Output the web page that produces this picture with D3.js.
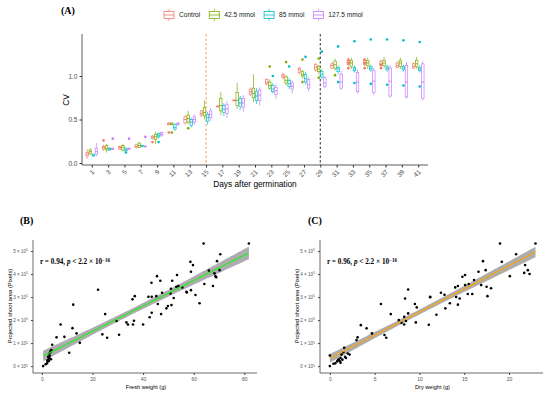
<html>
<head>
<script src="https://d3js.org/d3.v7.min.js"></script>
<style>
  body { margin: 0; background: #fff; }
  text { font-family: "Liberation Sans", Arial, sans-serif; }
  .serif { font-family: "Liberation Serif", "Times New Roman", serif; font-weight: bold; }
</style>
</head>
<body>
<svg id="fig" width="550" height="394"></svg>
<script>
// ---- panel A data: CV per day, [lower whisker, q1, median, q3, upper whisker] ----
const days = [1,3,5,7,9,11,13,15,17,19,21,23,25,27,29,31,33,35,37,39,41];
const groups = ["Control", "42.5 mmol", "85 mmol", "127.5 mmol"];
const groupColors = ["#F8766D", "#7CAE00", "#00BFC4", "#C77CFF"];

const statsControl = [
  [0.05,0.08,0.10,0.12,0.16],[0.14,0.16,0.18,0.19,0.21],[0.15,0.16,0.18,0.19,0.20],[0.17,0.18,0.19,0.21,0.22],
  [0.27,0.28,0.30,0.31,0.32],[0.43,0.44,0.45,0.46,0.47],[0.44,0.46,0.50,0.53,0.55],[0.53,0.55,0.57,0.60,0.61],
  [0.64,0.645,0.65,0.655,0.66],[0.71,0.715,0.72,0.725,0.73],[0.77,0.79,0.82,0.85,0.87],[0.89,0.91,0.93,0.96,0.97],
  [0.96,0.98,1.00,1.02,1.04],[1.02,1.04,1.07,1.09,1.11],[1.05,1.07,1.10,1.13,1.15],[1.08,1.09,1.12,1.14,1.16],
  [1.11,1.13,1.16,1.18,1.20],[1.11,1.13,1.15,1.18,1.20],[1.10,1.12,1.14,1.17,1.19],[1.09,1.10,1.12,1.15,1.17],
  [1.08,1.09,1.11,1.14,1.16]
];
const outControl = [[3,0.26],[9,0.24],[11,0.35],[33,1.19],[33,1.15],[33,1.09],[35,1.19],[35,1.15],[35,1.09],[37,1.13],[37,1.09]];

const stats425 = [
  [0.09,0.11,0.13,0.15,0.17],[0.12,0.15,0.17,0.20,0.22],[0.13,0.15,0.18,0.20,0.22],[0.17,0.18,0.20,0.23,0.24],
  [0.22,0.27,0.30,0.33,0.36],[0.43,0.44,0.45,0.46,0.47],[0.45,0.47,0.51,0.55,0.60],[0.50,0.54,0.58,0.64,0.72],
  [0.55,0.60,0.66,0.74,0.82],[0.62,0.66,0.72,0.81,0.92],[0.70,0.75,0.80,0.86,1.02],[0.84,0.86,0.89,0.93,0.96],
  [0.89,0.92,0.95,0.99,1.01],[0.97,1.00,1.02,1.05,1.07],[1.02,1.05,1.08,1.11,1.13],[1.06,1.09,1.13,1.17,1.20],
  [1.08,1.11,1.15,1.18,1.21],[1.08,1.12,1.15,1.18,1.21],[1.09,1.12,1.15,1.18,1.22],[1.08,1.11,1.15,1.18,1.21],
  [1.08,1.11,1.14,1.18,1.22]
];
const out425 = [[11,0.35],[13,0.40],[23,1.11],[25,1.16],[27,1.19],[27,0.93],[29,1.20],[29,0.98],[31,1.01]];

const stats85 = [
  [0.07,0.08,0.09,0.10,0.11],[0.14,0.15,0.16,0.17,0.18],[0.13,0.14,0.15,0.17,0.18],[0.18,0.19,0.195,0.20,0.21],
  [0.28,0.30,0.32,0.34,0.35],[0.37,0.39,0.41,0.44,0.46],[0.41,0.43,0.47,0.50,0.52],[0.44,0.48,0.52,0.56,0.59],
  [0.54,0.58,0.62,0.66,0.69],[0.61,0.65,0.69,0.74,0.77],[0.68,0.72,0.77,0.82,0.86],[0.80,0.82,0.85,0.89,0.92],
  [0.85,0.88,0.91,0.95,0.98],[0.90,0.93,0.97,1.02,1.05],[0.96,0.99,1.02,1.05,1.08],[1.02,1.05,1.08,1.10,1.12],
  [1.04,1.06,1.08,1.10,1.12],[1.05,1.07,1.09,1.11,1.13],[1.05,1.07,1.09,1.11,1.13],[1.05,1.07,1.09,1.11,1.13],
  [1.04,1.06,1.08,1.10,1.12]
];
const out85 = [[5,0.12],[9,0.24],[23,1.00],[25,1.11],[27,1.22],[29,1.28],[31,1.34],[31,0.93],[33,1.40],[33,0.92],
  [35,1.42],[35,0.91],[37,1.42],[37,0.90],[39,1.41],[39,0.89],[41,1.39],[41,0.88]];

const stats1275 = [
  [0.08,0.10,0.13,0.17,0.23],[0.15,0.155,0.16,0.17,0.18],[0.15,0.16,0.165,0.17,0.18],[0.18,0.185,0.19,0.195,0.20],
  [0.30,0.32,0.33,0.35,0.36],[0.43,0.44,0.45,0.46,0.47],[0.44,0.47,0.50,0.53,0.56],[0.48,0.52,0.56,0.60,0.63],
  [0.52,0.57,0.62,0.67,0.71],[0.59,0.64,0.69,0.74,0.78],[0.66,0.72,0.78,0.84,0.87],[0.74,0.79,0.83,0.87,0.91],
  [0.80,0.85,0.88,0.92,0.95],[0.82,0.86,0.90,0.96,0.99],[0.86,0.88,0.92,0.98,1.00],[0.84,0.86,0.93,1.02,1.06],
  [0.80,0.82,0.93,1.04,1.08],[0.78,0.81,0.94,1.06,1.10],[0.75,0.77,0.94,1.09,1.13],[0.74,0.76,0.93,1.12,1.16],
  [0.72,0.74,0.93,1.14,1.17]
];
const out1275 = [[3,0.28],[5,0.28],[7,0.30]];

const allStats = [statsControl, stats425, stats85, stats1275];
const allOut = [outControl, out425, out85, out1275];
const cvTicks = [0, 0.5, 1.0];
const markDays = [15, 29];

// ---- panels B and C: shoot area (x 10^5 pixels) against fresh / dry weight ----
const freshB = [0.5,1.5,2.0,2.3,2.6,2.8,3.0,3.1,2.9,3.3,3.5,3.8,4.1,2.5,3.6,2.2,
  12.4,25.0,7.4,12.1,5.8,8.9,13.7,10.8,15.0,22.2,36.7,35.8,42.1,43.4,45.2,45.8,50.8,57.3,58.9,60.7,52.1,49.8,49.2,51.2,
  47.1,43.4,42.6,40.0,36.4,36.0,34.0,33.4,29.5,30.5,23.9,25.8,62.3,
  63.9,81.8,70.5,58.7,59.7,58.9,69.2,66.0,68.2,68.6,68.9,70.2,45.5,53.4,43.3,46.8,51.5,64.2,67.6,47.5,51.0,53.1,53.9,55.5,57.1];
const areaB = [0.0,0.08,0.12,0.2,0.28,0.22,0.35,0.45,0.55,0.6,0.66,0.7,0.93,0.4,0.3,0.25,
  2.67,2.26,1.81,1.65,1.25,1.27,1.42,0.58,1.01,3.32,3.04,2.9,3.01,3.01,3.04,2.7,3.16,3.2,3.3,3.09,2.96,2.61,2.51,2.65,
  2.26,2.32,2.12,1.81,1.97,1.81,1.81,1.9,1.96,1.36,1.38,1.23,2.73,
  5.33,5.33,4.86,4.53,4.39,4.1,4.56,4.15,4.03,3.91,3.86,4.17,3.91,3.96,3.62,3.71,3.71,3.57,3.48,3.19,3.36,3.45,3.48,3.42,3.23];

const dryC = [0,0,0.4,0.6,0.8,0.9,1.0,1.1,1.2,1.3,1.4,1.5,1.6,1.7,1.8,2.0,2.2,1.2,
  2.98,3.1,3.46,4.1,4.7,5.7,6.8,6.1,6.3,7.7,8.0,8.3,8.3,8.5,9.5,9.7,9.6,8.74,11.05,11.9,11.2,12.4,13.4,12.9,14.3,14.5,14.1,
  15.4,15.9,17.6,8.74,8.4,11.2,12.8,
  19.0,22.96,17.1,20.8,19.2,17.4,16.6,15.1,14.8,21.8,22.1,22.3,21.7,20.1,16.1,16.9,17.5,18.0,15.5,15.1,14.3,14.0];
const areaC = [0,0.46,0.1,0.12,0.2,0.25,0.3,0.22,0.35,0.5,0.28,0.6,0.8,0.4,0.35,0.55,0.5,0.15,
  1.13,1.25,1.78,1.64,1.42,2.7,2.26,1.35,1.23,2.0,1.88,2.14,1.81,1.96,2.7,2.55,1.9,2.29,1.8,2.23,3.01,3.19,2.73,2.51,2.67,2.94,3.0,
  3.13,3.13,3.04,3.33,2.94,2.99,3.1,
  5.33,5.33,4.56,4.86,4.53,4.17,4.1,3.96,3.88,4.39,4.17,4.0,4.05,3.91,3.74,3.52,3.45,3.38,3.57,3.52,3.48,3.42];

const areaTicks = [0,1,2,3,4,5];
const freshTicks = [0,20,40,60,80];
const dryTicks = [0,5,10,15,20];

const svg = d3.select("#fig");
svg.append("rect").attr("width", 550).attr("height", 394).attr("fill", "#fff");

// ================= Panel A =================
const xA = d3.scalePoint().domain(days).range([82, 428]).padding(0.6);
const yA = d3.scaleLinear().domain([0, 1]).range([163, 76]);
const step = xA.step();
const boxW = step * 0.75 / 4;

svg.append("text").attr("class", "serif").attr("x", 61).attr("y", 14).attr("font-size", 10).text("(A)");

// dashed reference lines
svg.selectAll("line.mark").data(markDays).join("line")
  .attr("x1", d => xA(d)).attr("x2", d => xA(d))
  .attr("y1", 34).attr("y2", 165)
  .attr("stroke", (d, i) => i === 0 ? "#F6A56E" : "#444")
  .attr("stroke-width", 1.1)
  .attr("stroke-dasharray", "2.5,2");

const gA = svg.append("g");
groups.forEach((grp, gi) => {
  const off = (gi - 1.5) * boxW;
  const col = groupColors[gi];
  const g = gA.append("g");
  allStats[gi].forEach((s, di) => {
    const cx = xA(days[di]) + off;
    g.append("line").attr("x1", cx).attr("x2", cx).attr("y1", yA(s[0])).attr("y2", yA(s[1]))
      .attr("stroke", col).attr("stroke-width", 0.7);
    g.append("line").attr("x1", cx).attr("x2", cx).attr("y1", yA(s[3])).attr("y2", yA(s[4]))
      .attr("stroke", col).attr("stroke-width", 0.7);
    g.append("rect").attr("x", cx - boxW / 2 + 0.3).attr("width", boxW - 0.6)
      .attr("y", yA(s[3])).attr("height", Math.max(0.8, yA(s[1]) - yA(s[3])))
      .attr("fill", "#fff").attr("stroke", col).attr("stroke-width", 0.7);
    g.append("line").attr("x1", cx - boxW / 2 + 0.3).attr("x2", cx + boxW / 2 - 0.3)
      .attr("y1", yA(s[2])).attr("y2", yA(s[2])).attr("stroke", col).attr("stroke-width", 0.9);
  });
  g.selectAll("circle").data(allOut[gi]).join("circle")
    .attr("cx", d => xA(d[0]) + off).attr("cy", d => yA(d[1]))
    .attr("r", 1.3).attr("fill", col);
});

// axes A
svg.append("line").attr("x1", 82).attr("x2", 82).attr("y1", 34).attr("y2", 165).attr("stroke", "#333").attr("stroke-width", 0.8);
svg.append("line").attr("x1", 82).attr("x2", 428).attr("y1", 165).attr("y2", 165).attr("stroke", "#333").attr("stroke-width", 0.8);

const axYA = svg.append("g").attr("transform", "translate(82,0)")
  .call(d3.axisLeft(yA).tickValues(cvTicks).tickSize(2.5).tickFormat(d3.format(".1f")));
axYA.select(".domain").remove();
axYA.selectAll("line").attr("stroke", "#333");
axYA.selectAll("text").attr("font-size", 6.5).attr("fill", "#4d4d4d").attr("dx", 1);

const axXA = svg.append("g").attr("transform", "translate(0,165)")
  .call(d3.axisBottom(xA).tickSize(2.5));
axXA.select(".domain").remove();
axXA.selectAll("line").attr("stroke", "#333");
axXA.selectAll("text").attr("font-size", 6.5).attr("fill", "#4d4d4d")
  .attr("text-anchor", "end").attr("dy", 0).attr("y", 0)
  .attr("transform", "translate(2.5,7.5) rotate(-45)");

svg.append("text").attr("x", 66).attr("y", 100).attr("font-size", 8.3).attr("text-anchor", "middle")
  .attr("transform", "rotate(-90,66,100)").attr("dy", "0.35em").text("CV");
svg.append("text").attr("x", 255).attr("y", 187).attr("font-size", 8.3).attr("text-anchor", "middle")
  .text("Days after germination");

// legend
let lx = 163;
groups.forEach((grp, gi) => {
  const col = groupColors[gi];
  const k = svg.append("g").attr("transform", `translate(${lx},15)`);
  k.append("line").attr("x1", 6).attr("x2", 6).attr("y1", -6).attr("y2", 6).attr("stroke", col).attr("stroke-width", 0.7);
  k.append("rect").attr("x", 1).attr("y", -3.5).attr("width", 10).attr("height", 7)
    .attr("fill", "#fff").attr("stroke", col).attr("stroke-width", 0.8);
  k.append("line").attr("x1", 1).attr("x2", 11).attr("y1", 0).attr("y2", 0).attr("stroke", col).attr("stroke-width", 0.8);
  const t = k.append("text").attr("x", 16).attr("y", 0).attr("dy", "0.35em").attr("font-size", 6.6)
    .attr("fill", "#222").text(grp);
  lx += 16 + t.node().getComputedTextLength() + 8;
});

// ================= Panels B and C =================
function sup(sel, base, exp) {
  sel.text(null);
  sel.append("tspan").text(base);
  sel.append("tspan").attr("dy", "-0.45em").attr("font-size", "0.75em").text(exp);
}

function scatterPanel(opts) {
  const { xs, ys, xDom, xRange, xTicks, lineColor, label, lx, ly, rText, xTitle } = opts;
  const x = d3.scaleLinear().domain(xDom).range(xRange);
  const y = d3.scaleLinear().domain([-0.3, 5.48]).range([373, 240]);
  const g = svg.append("g");

  g.append("text").attr("class", "serif").attr("x", lx).attr("y", ly).attr("font-size", 10).text(label);

  // least squares fit with 95% confidence band
  const n = xs.length;
  const mx = d3.mean(xs), my = d3.mean(ys);
  let sxx = 0, sxy = 0;
  xs.forEach((v, i) => { sxx += (v - mx) ** 2; sxy += (v - mx) * (ys[i] - my); });
  const b = sxy / sxx, a = my - b * mx;
  let sse = 0;
  xs.forEach((v, i) => { sse += (ys[i] - a - b * v) ** 2; });
  const s = Math.sqrt(sse / (n - 2));
  const tq = 1.99;
  const [x0, x1] = d3.extent(xs);
  const grid = d3.range(0, 81).map(i => x0 + (x1 - x0) * i / 80);
  const band = grid.map(v => {
    const fit = a + b * v;
    const se = s * Math.sqrt(1 / n + (v - mx) ** 2 / sxx);
    return { v, fit, lo: fit - tq * se, hi: fit + tq * se };
  });
  g.append("path").datum(band)
    .attr("d", d3.area().x(d => x(d.v)).y0(d => y(d.lo)).y1(d => y(d.hi)))
    .attr("fill", "#999").attr("opacity", 0.8);

  g.selectAll("circle").data(xs).join("circle")
    .attr("cx", d => x(d)).attr("cy", (d, i) => y(ys[i])).attr("r", 1.3).attr("fill", "#000");

  g.append("path").datum(band)
    .attr("d", d3.line().x(d => x(d.v)).y(d => y(d.fit)))
    .attr("fill", "none").attr("stroke", lineColor).attr("stroke-width", 1.1);

  // axes
  g.append("line").attr("x1", xRange[0]).attr("x2", xRange[0]).attr("y1", 240).attr("y2", 373).attr("stroke", "#444").attr("stroke-width", 0.8);
  g.append("line").attr("x1", xRange[0]).attr("x2", xRange[1]).attr("y1", 373).attr("y2", 373).attr("stroke", "#444").attr("stroke-width", 0.8);

  const ay = g.append("g").attr("transform", `translate(${xRange[0]},0)`)
    .call(d3.axisLeft(y).tickValues(areaTicks).tickSize(2));
  ay.select(".domain").remove();
  ay.selectAll("line").attr("stroke", "#444");
  ay.selectAll("text").attr("font-size", 4.6).attr("fill", "#555").each(function (d) {
    sup(d3.select(this), d + " \u00d7 10", "5");
  });

  const ax = g.append("g").attr("transform", "translate(0,373)")
    .call(d3.axisBottom(x).tickValues(xTicks).tickSize(2));
  ax.select(".domain").remove();
  ax.selectAll("line").attr("stroke", "#444");
  ax.selectAll("text").attr("font-size", 5).attr("fill", "#555").attr("y", 4);

  g.append("text").attr("x", (xRange[0] + xRange[1]) / 2 + 1).attr("y", 389).attr("font-size", 5.6)
    .attr("text-anchor", "middle").text(xTitle);

  const yc = 306, xc = xRange[0] - 21;
  g.append("text").attr("x", xc).attr("y", yc).attr("font-size", 5.8).attr("text-anchor", "middle")
    .attr("transform", `rotate(-90,${xc},${yc})`).text("Projected shoot area (Pixels)");

  const rt = g.append("text").attr("class", "serif").attr("x", xRange[0] + 7).attr("y", 264).attr("font-size", 7.2);
  rt.append("tspan").text(rText + ", ");
  rt.append("tspan").attr("font-style", "italic").text("p");
  rt.append("tspan").text(" < 2.2 \u00d7 10");
  rt.append("tspan").attr("dy", "-0.45em").attr("font-size", "0.7em").text("\u221216");
}

scatterPanel({ xs: freshB, ys: areaB, xDom: [-3.5, 85], xRange: [33, 257], xTicks: freshTicks,
  lineColor: "#22EE22", label: "(B)", lx: 20, ly: 224, rText: "r = 0.94", xTitle: "Fresh weight (g)" });
scatterPanel({ xs: dryC, ys: areaC, xDom: [-1.1, 23.8], xRange: [320, 543], xTicks: dryTicks,
  lineColor: "#FFA500", label: "(C)", lx: 308, ly: 224, rText: "r = 0.96", xTitle: "Dry weight (g)" });
</script>
</body>
</html>
